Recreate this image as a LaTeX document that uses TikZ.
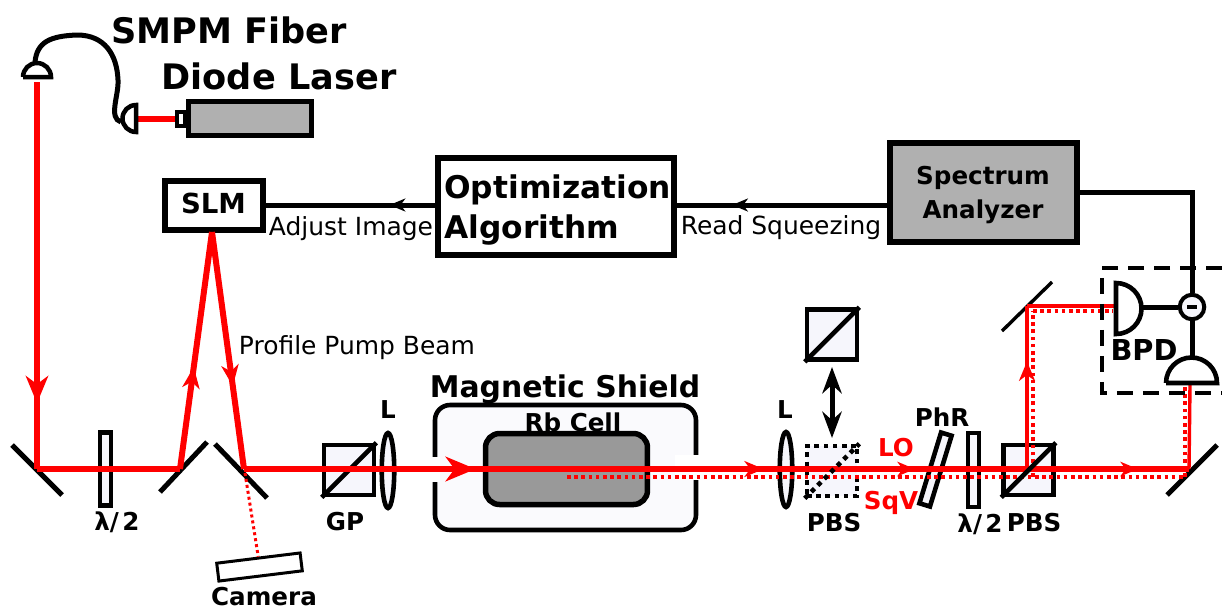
\documentclass[tikz,border=0pt]{standalone}
\usepackage{fontspec}
\setmainfont{DejaVu Sans}
\usetikzlibrary{arrows.meta,decorations.markings,positioning,shapes.geometric}
\newdimen\pix
\pix=0.56906pt
\definecolor{paleoptic}{HTML}{F6F6FC}
\definecolor{lasergray}{HTML}{B0B0B0}
\definecolor{cellgray}{HTML}{999999}
\tikzset{
	beam/.style={red,line width=6\pix},
	thinbeam/.style={red,line width=3.4\pix},
	dotbeam/.style={red,line width=3.6\pix,dash pattern=on 3.6\pix off 3.6\pix},
	mirror/.style={draw=black,line width=5\pix},
	wire/.style={black,line width=5\pix},
	optic/.style={draw=black,fill=paleoptic,line width=4.6\pix,inner sep=0pt},
	cube/.style={optic,minimum size=50\pix},
	dotcube/.style={cube,fill=paleoptic,dash pattern=on 4.6\pix off 4.6\pix},
	lens/.style={optic,ellipse,minimum width=12.5\pix,minimum height=75\pix},
	plate/.style={optic,minimum width=11\pix,minimum height=73\pix},
	flowbox/.style={draw=black,inner sep=0pt,line width=6\pix},
	bigtext/.style={inner sep=0pt,font=\bfseries\fontsize{20}{24}\selectfont},
	midtext/.style={inner sep=0pt,font=\bfseries\fontsize{17.8}{22}\selectfont},
	labeltext/.style={inner sep=0pt,font=\bfseries\fontsize{14}{17}\selectfont},
	plaintext/.style={inner sep=0pt,font=\fontsize{14.2}{17}\selectfont},
	redtext/.style={labeltext,text=red},
	tip at/.style 2 args={decoration={markings,mark=at position #1 with {\arrow{Stealth[length=#2,width'=0pt 0.82,inset'=0pt 0.3]}}},postaction={decorate}}
}
\begin{document}
\begin{tikzpicture}[x=0.02cm,y=-0.02cm]
	\useasboundingbox (0,0) rectangle (1222,610);

	\node [bigtext] (fibertext) at (229,30) {SMPM Fiber};
	\node [bigtext] (lasertext) at (279,76) {Diode Laser};
	\node [midtext,font=\bfseries\fontsize{17}{20}\selectfont] (shieldtext) at (565,389) {Magnetic Shield};
	\node [redtext] (lotext) at (896,448) {LO};
	\node [redtext] (sqvtext) at (891,503) {SqV};
	\node [labeltext] (phrtext) at (942,417) {PhR};
	\node [labeltext] (ltext1) at (388,410) {L};
	\node [labeltext] (ltext2) at (785,410) {L};
	\node [labeltext] (gptext) at (345,522) {GP};
	\node [labeltext] (pbstext1) at (834,523) {PBS};
	\node [labeltext] (pbstext2) at (1034,523) {PBS};
	\node [labeltext] (waveplatetext1) at (117,522) {λ/\kern2pt 2};
	\node [labeltext] (waveplatetext2) at (980,524) {λ/\kern2pt 2};
	\node [labeltext] (cameratext) at (264,597) {Camera};
	\node [labeltext,font=\bfseries\fontsize{16.4}{20}\selectfont] (bpdtext) at (1144,350) {BPD};
	\node [plaintext] (adjusttext) at (351,229) {Adjust Image};
	\node [plaintext] (readtext) at (781,228) {Read Squeezing};
	\node [plaintext] (profiletext) at (357,348) {Profile Pump Beam};

	\node [flowbox,minimum width=124\pix,minimum height=34\pix,fill=lasergray,line width=5\pix] (laser) at (250,118) {};
	\node [flowbox,minimum width=8\pix,minimum height=14\pix,line width=4\pix] (nozzle) at (181,119) {};
	\node [flowbox,minimum width=99\pix,minimum height=49\pix] (slm) at (214,205) {};
	\node [labeltext,font=\bfseries\fontsize{15.7}{19}\selectfont] (slmtext) at (213.5,203) {SLM};
	\node [flowbox,minimum width=236\pix,minimum height=97\pix] (optim) at (556,206.5) {};
	\node [midtext,anchor=west,align=left] (optimtext) at (444,210) {Optimization\\[1pt]Algorithm};
	\node [flowbox,minimum width=187\pix,minimum height=99\pix,fill=lasergray] (spectrum) at (983,192.5) {};
	\node [labeltext,align=center] (spectrumtext) at (983,195) {Spectrum\\[2pt]Analyzer};

	\node [optic,rounded corners=15\pix,minimum width=261\pix,minimum height=125\pix,fill=paleoptic!60!white] (shield) at (565.5,467.5) {};
	\fill [white] (424,457) rectangle (440,482);
	\fill [white] (675,455) rectangle (701,480);
	\node [labeltext] (rbtext) at (573,422) {Rb Cell};
	\node [optic,rounded corners=14\pix,minimum width=162\pix,minimum height=71\pix,fill=cellgray,line width=5.5\pix] (cell) at (566.5,469) {};

	\node [plate] (waveplate1) at (105.5,469) {};
	\node [cube] (gp) at (349,470) {};
	\node [lens] (lens1) at (388,470.5) {};
	\node [lens] (lens2) at (786,469.5) {};
	\node [cube] (flipcube) at (832,334.5) {};
	\node [dotcube] (pbs1) at (832,471) {};
	\node [plate,minimum height=74\pix,rotate=-17] (phr) at (935.5,469.5) {};
	\node [plate,minimum height=74\pix] (waveplate2) at (973.5,470) {};
	\node [cube] (pbs2) at (1028.5,470) {};
	\node [draw=black,fill=white,line width=3\pix,inner sep=0pt,minimum width=84\pix,minimum height=18\pix,rotate=7] (camera) at (259.5,567) {};

	\draw [black,line width=4.6\pix] (gp.south west) -- (gp.north east);
	\draw [black,line width=4.6\pix] (flipcube.south west) -- (flipcube.north east);

	\coordinate (coupler1) at (37,82);
	\coordinate (coupler2) at (137,119);
	\coordinate (sm1) at (37,469);
	\coordinate (sm2) at (180,469);
	\coordinate (sm3) at (244,469);
	\coordinate (slmspot) at (212,232);
	\coordinate (sm4) at (1189,469);
	\coordinate (sm5) at (1027,306);
	\coordinate (split) at (1027,469);
	\coordinate (dot0) at (567,477);
	\coordinate (dot1) at (1185,477);
	\coordinate (dot2) at (1185,385);
	\coordinate (dot3) at (1033,477);
	\coordinate (dot4) at (1033,311);
	\coordinate (dot5) at (1113,311);
	\coordinate (bpd1) at (1115,306);
	\coordinate (bpd2) at (1190,384);
	\coordinate (camspot) at (245,473);

	\draw [mirror] (12,445) to (62,495);
	\draw [mirror] (160,492) to (207,442);
	\draw [mirror] (215,444) to (267,498);
	\draw [mirror,line width=3.4\pix] (1002,331) to (1052,282);
	\draw [mirror] (1167,495) to (1217,445);

	\draw [dotbeam,line width=3\pix,dash pattern=on 3\pix off 3\pix] (camspot) to (camera.north);
	\draw [beam,tip at={0.83}{15.5pt}] (coupler1) to (sm1);
	\draw [beam] (sm1) to (sm2);
	\draw [beam,tip at={0.43}{12pt}] (sm2) to (slmspot);
	\draw [beam,tip at={0.65}{12pt}] (slmspot) to (sm3);
	\draw [beam,tip at={0.245}{17pt}] (sm3) to (sm4);
	\draw [beam,tip at={0.55}{11pt}] (sm3) to (sm4);
	\draw [beam,tip at={0.71}{10pt}] (sm3) to (sm4);
	\draw [beam,tip at={0.946}{10pt}] (sm3) to (sm4);
	\draw [dotbeam] (dot0) to (dot1);
	\draw [dotbeam] (dot1) to (dot2);
	\draw [dotbeam] (dot3) to (dot4);
	\draw [dotbeam] (dot4) to (dot5);
	\draw [thinbeam,tip at={0.66}{11pt}] (split) to (sm5);
	\draw [thinbeam] (sm5) to (bpd1);
	\draw [thinbeam] (sm4) to (bpd2);
	\draw [beam] (coupler2) to (nozzle.west);

	\draw [black,line width=4.6\pix,dash pattern=on 4.6\pix off 4.6\pix] (pbs1.south west) -- (pbs1.north east);
	\draw [black,line width=4.6\pix] (pbs2.south west) -- (pbs2.north east);

	\draw [line width=4.5\pix] (23,77) -- (51,77) arc [start angle=0,end angle=180,radius=14\pix] -- cycle;
	\draw [line width=4.5\pix] (136,132) arc [start angle=270,end angle=90,radius=13.5\pix] -- cycle;
	\draw [black,line width=5\pix] (35,62) .. controls (37,42) and (50,36) .. (77,35) .. controls (105,35) and (117,55) .. (118,80) .. controls (119,95) and (108,118) .. (121,122);

	\draw [wire,tip at={0.27}{9pt}] (slm.east -| optim.west) to (slm.east);
	\draw [wire,tip at={0.737}{9pt}] (spectrum.west |- slm.east) to (optim.east |- slm.east);

	\node [draw=black,circle,line width=4\pix,minimum size=24.5\pix,inner sep=0pt,fill=paleoptic] (subtract) at (1192,307) {};
	\draw [line width=4\pix] (1187,307) -- (1197,307);
	\coordinate (spectrumout) at (1077,192);
	\draw [wire] (spectrumout) to (spectrumout -| subtract.north) to (subtract.north);
	\draw [wire] (subtract.south) to (1192,357);
	\draw [wire] (1142,307) to (subtract.west);
	\draw [line width=4.6\pix] (1116,334) arc [start angle=-90,end angle=90,radius=25.5\pix] -- cycle;
	\draw [line width=4.6\pix] (1166,383) -- (1217,383) arc [start angle=0,end angle=180,radius=25.5\pix] -- cycle;

	\draw [black,line width=3.4\pix,dash pattern=on 16\pix off 10\pix] (1222,268) -- (1102,268) -- (1102,393) -- (1222,393);
	\draw [black,line width=5\pix,{Stealth[length=15pt,width=11pt]}-{Stealth[length=15pt,width=11pt]}] (pbs1.north |- 0,367) to (pbs1.north |- 0,438);
\end{tikzpicture}
\end{document}
